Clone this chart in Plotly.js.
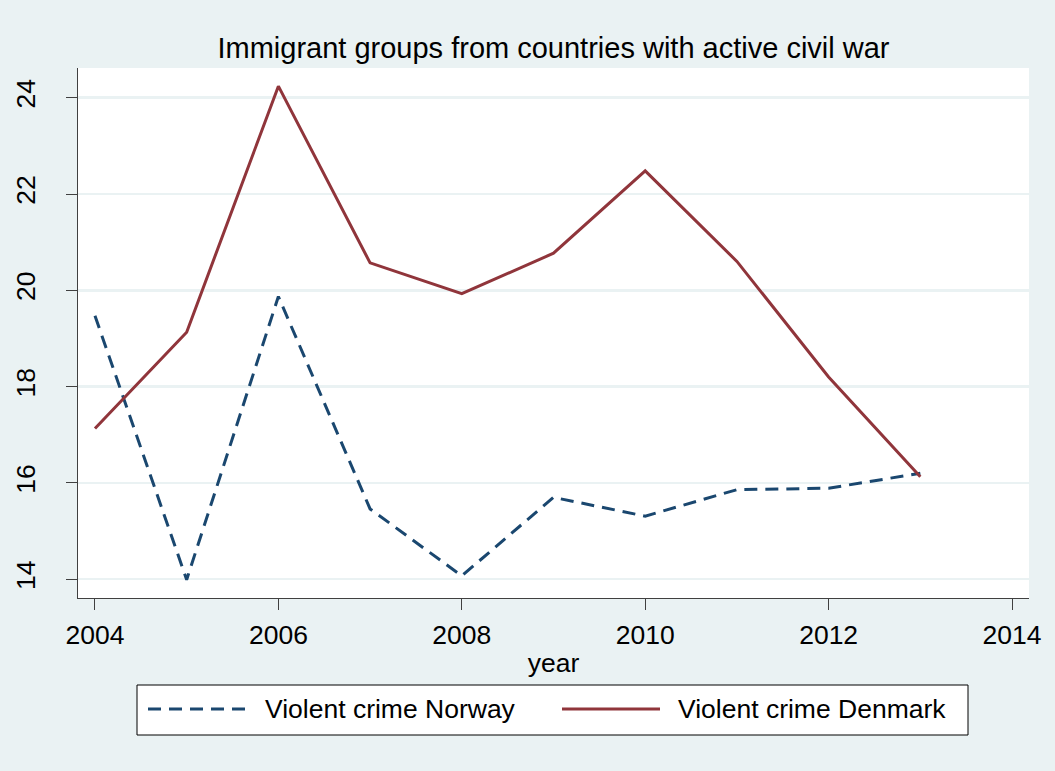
<!DOCTYPE html>
<html>
<head>
<meta charset="utf-8">
<script src="https://cdn.plot.ly/plotly-3.0.1.min.js"></script>
<style>html,body{margin:0;padding:0;background:#EAF2F3;}#chart{width:1055px;height:771px;}</style>
</head>
<body>
<div id="chart"></div>
<script>
const years = [2004, 2005, 2006, 2007, 2008, 2009, 2010, 2011, 2012, 2013];
const norway = [19.47, 13.99, 19.87, 15.46, 14.07, 15.70, 15.31, 15.86, 15.89, 16.20];
const denmark = [17.13, 19.13, 24.24, 20.57, 19.93, 20.77, 22.48, 20.60, 18.20, 16.13];
const xTicks = [2004, 2006, 2008, 2010, 2012, 2014];
const yTicks = [14, 16, 18, 20, 22, 24];
const titleText = 'Immigrant groups from countries with active civil war';
const seriesNames = ['Violent crime Norway', 'Violent crime Denmark'];

const FONT = 'Liberation Sans, Arial, Helvetica, sans-serif';
const W = 1055, H = 771;
const M = {l: 78, r: 26, t: 68, b: 173};
const PW = W - M.l - M.r, PH = H - M.t - M.b;
const px = v => (v - M.l) / PW;           // pixel -> paper x
const py = v => (H - M.b - v) / PH;       // pixel -> paper y

const lineStyles = [
  {color: '#1A476F', width: 3, dash: '13px,8px'},
  {color: '#90353B', width: 3}
];
const traces = [
  {x: years, y: norway, name: seriesNames[0], type: 'scatter', mode: 'lines', line: lineStyles[0], showlegend: false},
  {x: years, y: denmark, name: seriesNames[1], type: 'scatter', mode: 'lines', line: lineStyles[1], showlegend: false}
];

// custom legend (Stata-like long line samples)
const legY = py(709);
const shapes = [
  {type: 'rect', xref: 'paper', yref: 'paper', x0: px(137), x1: px(968), y0: py(735), y1: py(685),
   line: {color: '#000000', width: 1}, fillcolor: '#FFFFFF', layer: 'above'},
  {type: 'line', xref: 'paper', yref: 'paper', x0: px(148), x1: px(248), y0: legY, y1: legY,
   line: {color: lineStyles[0].color, width: lineStyles[0].width, dash: lineStyles[0].dash}},
  {type: 'line', xref: 'paper', yref: 'paper', x0: px(562), x1: px(660), y0: legY, y1: legY,
   line: {color: lineStyles[1].color, width: lineStyles[1].width}}
];
const annotations = [
  {text: seriesNames[0], xref: 'paper', yref: 'paper', x: px(263), y: legY, xanchor: 'left', yanchor: 'middle',
   showarrow: false, font: {family: FONT, size: 26.5, color: '#000000'}},
  {text: seriesNames[1], xref: 'paper', yref: 'paper', x: px(676), y: legY, xanchor: 'left', yanchor: 'middle',
   showarrow: false, font: {family: FONT, size: 26.5, color: '#000000'}}
];

const layout = {
  width: W, height: H,
  paper_bgcolor: '#EAF2F3', plot_bgcolor: '#FFFFFF',
  margin: M,
  font: {family: FONT, color: '#000000', size: 26.5},
  title: {text: titleText, font: {family: FONT, size: 29, color: '#000000'},
          x: 0.5, xref: 'paper', xanchor: 'center', y: 1 - 48/771, yref: 'container', yanchor: 'middle'},
  xaxis: {range: [2003.815, 2014.185], tickvals: xTicks, ticktext: xTicks.map(String),
          showgrid: false, zeroline: false, showline: true, linecolor: '#404040', linewidth: 1,
          ticks: 'outside', ticklen: 11, tickcolor: '#404040', tickwidth: 1,
          tickfont: {size: 26.5, family: FONT}, ticklabelstandoff: 2,
          title: {text: 'year', font: {size: 26.5, family: FONT}, standoff: 4}},
  yaxis: {range: [13.61, 24.617], tickvals: yTicks, ticktext: yTicks.map(String),
          showgrid: true, gridcolor: '#EAF2F3', gridwidth: 2.5, zeroline: false,
          showline: true, linecolor: '#404040', linewidth: 1,
          ticks: 'outside', ticklen: 11, tickcolor: '#404040', tickwidth: 1,
          tickangle: -90, tickfont: {size: 26.5, family: FONT}, ticklabelstandoff: 20},
  showlegend: false,
  shapes: shapes,
  annotations: annotations
};
Plotly.newPlot('chart', traces, layout, {displayModeBar: false, staticPlot: true});
</script>
</body>
</html>
